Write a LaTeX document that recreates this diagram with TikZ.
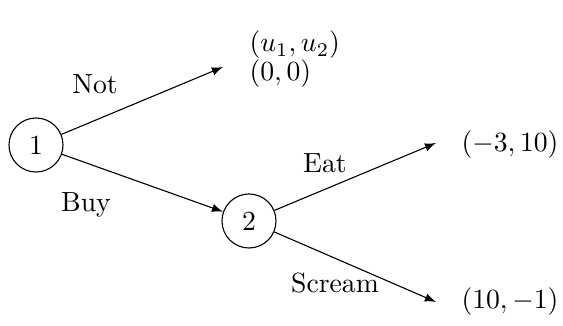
\documentclass[tikz,border=0pt]{standalone}
\usetikzlibrary{arrows}
\begin{document}
\begin{tikzpicture}[x=0.3609pt,y=-0.3609pt,
  dec/.style={circle,draw,minimum size=19.5pt,inner sep=0pt},
  br/.style={-latex},
  lbl/.style={inner sep=0pt}]
\useasboundingbox (0,0) rectangle (563,326);
\node[dec] (n1) at (36,145) {1};
\node[dec] (n2) at (249,221) {2};
\coordinate (t1) at (223,67);
\coordinate (t2) at (436,143);
\coordinate (t3) at (436,302);
\draw[br] (n1) -- (t1);
\draw[br] (n1) -- (n2);
\draw[br] (n2) -- (t2);
\draw[br] (n2) -- (t3);
\node[lbl] (lnot) at (95,84) {Not};
\node[lbl] (lbuy) at (86,205) {Buy};
\node[lbl] (leat) at (325,163) {Eat};
\node[lbl] (lscream) at (335,283) {Scream};
\node[lbl,anchor=west] (pu) at (249,45) {$(u_1,u_2)$};
\node[lbl,anchor=west] (p0) at (249,74) {$(0,0)$};
\node[lbl] (p1) at (510,145) {$(-3,10)$};
\node[lbl] (p2) at (510,302) {$(10,-1)$};
\end{tikzpicture}
\end{document}
